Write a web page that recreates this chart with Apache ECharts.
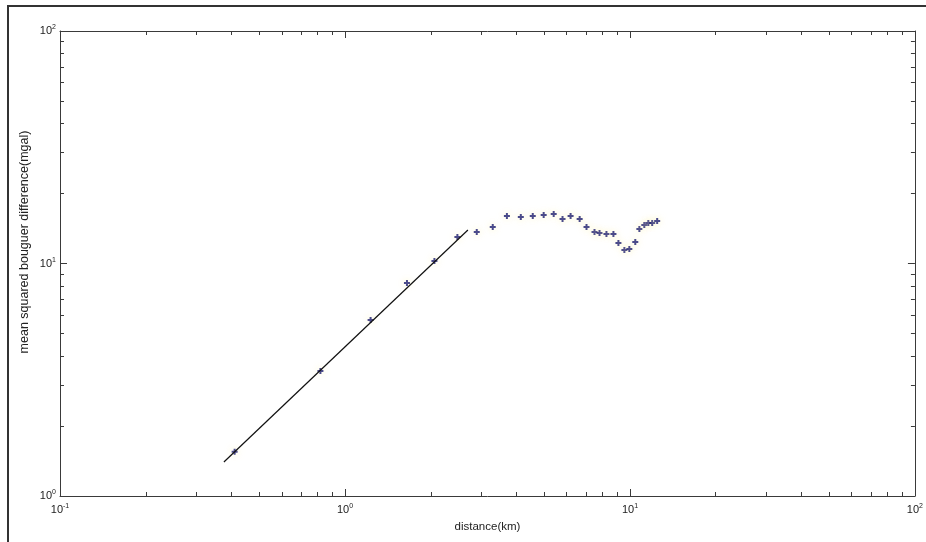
<!DOCTYPE html>
<html>
<head>
<meta charset="utf-8">
<script src="https://cdn.jsdelivr.net/npm/echarts@6.0.0/dist/echarts.min.js"></script>
<style>
  html, body { margin: 0; padding: 0; background: #fff; }
  #chart { width: 926px; height: 542px; }
</style>
</head>
<body>
<div id="chart"></div>
<script>
// lag distance (km) and mean squared bouguer difference (mgal)
const distance = [0.41, 0.82, 1.23, 1.65, 2.06, 2.48, 2.9, 3.3, 3.7, 4.14,
  4.56, 4.98, 5.4, 5.8, 6.19, 6.66, 7.04, 7.51, 7.82, 8.27,
  8.75, 9.11, 9.56, 9.95, 10.44, 10.79, 11.23, 11.6, 11.97, 12.46];
const msbd = [1.55, 3.45, 5.71, 8.25, 10.25, 13.0, 13.66, 14.35, 16.0, 15.85,
  16.0, 16.17, 16.33, 15.54, 16.0, 15.54, 14.35, 13.66, 13.53, 13.39,
  13.39, 12.25, 11.43, 11.54, 12.37, 14.07, 14.64, 14.94, 14.94, 15.23];
// fitted power-law line end points
const fitX = [0.376, 2.7];
const fitY = [1.40, 13.94];

const chart = echarts.init(document.getElementById('chart'));
const axisColor = '#3a3a3a';
const font = '"Liberation Sans", Arial, sans-serif';

const supLabel = (v) => '{b|10}{s|' + Math.round(Math.log10(v)) + '}';
const labelRich = {
  b: { fontSize: 11, fontFamily: font, color: '#222' },
  s: { fontSize: 7, fontFamily: font, color: '#222', verticalAlign: 'top', padding: [0, 0, 7, 0] }
};

// one axis per side so the plot is boxed with ticks on all four sides
const makeAxis = (min, max, position, showLabel, margin) => ({
  type: 'log', logBase: 10, min: min, max: max, position: position,
  axisLine: { onZero: false, lineStyle: { color: axisColor, width: 1 } },
  axisTick: { inside: true, length: 7, lineStyle: { color: axisColor } },
  minorTick: { show: true, splitNumber: 9, length: 4, lineStyle: { color: axisColor } },
  axisLabel: showLabel ? { formatter: supLabel, rich: labelRich, margin: margin } : { show: false },
  splitLine: { show: false }
});

const xBottom = makeAxis(0.1, 100, 'bottom', true, 7);
xBottom.name = 'distance(km)';
xBottom.nameLocation = 'middle';
xBottom.nameGap = 23;
xBottom.nameTextStyle = { fontSize: 11.5, fontFamily: font, color: '#222' };

chart.setOption({
  animation: false,
  grid: { left: 60, top: 31, right: 7, bottom: 46 },
  xAxis: [xBottom, makeAxis(0.1, 100, 'top', false)],
  yAxis: [makeAxis(1, 100, 'left', true, 4), makeAxis(1, 100, 'right', false)],
  graphic: [
    { type: 'rect', shape: { x: 8, y: 6, width: 1000, height: 1000 }, style: { fill: 'none', stroke: '#333', lineWidth: 2 }, silent: true },
    { type: 'text', x: 25, y: 242, rotation: Math.PI / 2,
      style: { text: 'mean squared bouguer difference(mgal)', fontSize: 12.5, fontFamily: font, fill: '#222', align: 'center', verticalAlign: 'middle' } }
  ],
  series: [
    {
      type: 'line', xAxisIndex: 0, yAxisIndex: 0,
      data: fitX.map((x, i) => [x, fitY[i]]),
      showSymbol: false, lineStyle: { color: '#111', width: 1.2 }
    },
    {
      type: 'scatter', xAxisIndex: 0, yAxisIndex: 0,
      data: distance.map((x, i) => [x, msbd[i]]),
      symbol: 'path://M2,0H4V2H6V4H4V6H2V4H0V2H2Z', symbolSize: 6,
      itemStyle: { color: '#1e1e70', shadowColor: 'rgba(250,240,150,0.8)', shadowBlur: 7 }
    }
  ]
});
</script>
</body>
</html>
